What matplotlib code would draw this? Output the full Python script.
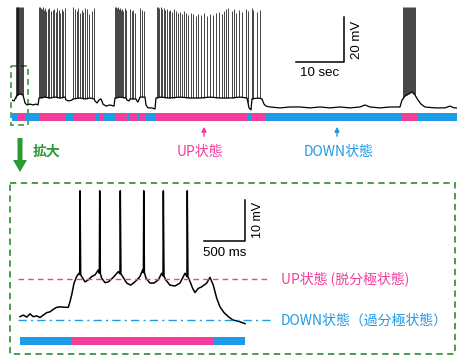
import numpy as np
import matplotlib
matplotlib.use('Agg')
import matplotlib.pyplot as plt
from matplotlib.patches import Rectangle, FancyArrow

W, H = 466, 363
PINK = '#f23d9b'
BLUE = '#1e9be6'
GREEN = '#2e9a34'
BOXGREEN = '#3d953d'
JP = ['Noto Sans CJK JP', 'DejaVu Sans']
LAT = ['Liberation Sans', 'DejaVu Sans']

# ---------------- top trace (time in s, membrane potential in mV) ----------------
top_base_t = [0.0, 0.42, 0.83, 1.04, 1.67, 2.29, 2.5, 2.71, 3.13, 3.75, 4.38, 5.0, 5.42,
              5.63, 6.88, 7.92, 8.96, 10.0, 11.04, 11.25, 11.88, 12.5, 12.71, 14.17, 15.21,
              16.25, 17.08, 17.29, 17.71, 18.13, 18.54, 18.96, 19.58, 20.42, 21.25, 21.46,
              22.5, 23.75, 23.96, 24.38, 24.58, 25.83, 26.04, 26.25, 26.67, 27.71, 27.92,
              28.33, 29.17, 29.79, 30.0, 30.83, 32.92, 35.0, 37.08, 39.17, 41.25, 43.33,
              45.42, 47.5, 48.96, 49.38, 49.79, 50.0, 51.25, 52.08, 52.5, 52.92, 53.75,
              55.83, 57.92, 60.0, 62.08, 64.17, 66.25, 68.33, 70.42, 72.5, 73.54, 74.58,
              76.67, 78.75, 80.83, 81.25, 81.88, 82.92, 83.33, 83.96, 84.58, 85.21, 86.04,
              88.13, 90.21, 91.25, 92.08, 92.71]
top_base_v = [-66.9, -67.3, -65.6, -64.7, -64.2, -64.7, -66.4, -68.2, -69.1, -68.7, -69.1,
              -68.7, -69.1, -66.0, -65.6, -66.0, -65.6, -66.0, -65.6, -66.9, -67.3, -66.9,
              -66.4, -66.0, -66.4, -66.0, -66.4, -67.3, -68.2, -66.9, -66.4, -68.7, -69.6,
              -69.1, -69.6, -66.0, -65.6, -66.0, -66.9, -67.3, -66.4, -66.4, -67.3, -67.8,
              -65.6, -65.6, -69.1, -70.4, -70.4, -70.9, -66.0, -65.6, -66.0, -65.6, -66.0,
              -66.0, -65.6, -66.0, -66.0, -65.6, -66.0, -70.4, -71.3, -66.4, -66.0, -66.4,
              -68.7, -69.6, -70.0, -70.4, -70.0, -70.0, -70.4, -70.0, -70.4, -70.0, -70.4,
              -70.0, -69.1, -70.0, -70.4, -70.0, -70.0, -66.9, -65.1, -63.8, -63.3, -64.7,
              -66.9, -68.7, -70.0, -70.4, -70.4, -69.6, -70.4, -70.4]

top_spike_t = [0.73, 0.94, 1.04, 1.25, 1.35, 1.56, 1.67, 1.88, 2.08, 2.29,
               5.63, 5.83, 6.04, 6.25, 6.46, 6.67, 6.88, 7.08, 7.5, 7.71, 8.13, 8.54, 8.75,
               9.17, 9.38, 9.79, 10.0, 10.42, 10.63, 11.04,
               12.71, 13.13, 13.54, 13.75, 14.17, 14.58, 14.79, 15.21, 15.63, 16.04, 16.67, 17.08,
               21.46, 21.67, 21.88, 22.08, 22.29, 22.5, 22.71, 22.92, 23.13, 23.54, 23.75,
               24.58, 25.0, 25.21, 25.63, 26.67, 27.08, 27.5,
               30.21, 30.42, 30.63, 31.04, 31.25, 31.67, 31.88, 32.29, 32.71, 32.92, 33.33,
               33.75, 34.17, 34.58, 35.0, 35.42, 35.83, 36.25, 36.67, 37.29, 37.71, 38.33,
               38.75, 39.38, 40.0, 40.63, 41.25, 41.88, 42.5, 43.13, 43.75, 44.17, 44.58,
               45.0, 45.83, 46.25, 46.67, 47.29, 47.92, 48.75, 49.17, 50.0, 50.21, 51.04, 51.67,
               81.46, 81.67, 81.88, 82.08, 82.29, 82.5, 82.71, 82.92, 83.13, 83.33, 83.54,
               83.75, 83.96]
top_spike_peak = [-25.6] * 10 + \
    [-25.6, -25.6, -26.0, -26.4, -25.6, -26.8, -26.0, -27.3, -26.4, -26.0, -27.3, -26.8,
     -26.4, -27.7, -26.0, -26.8, -28.2, -26.4, -27.3, -26.0] + \
    [-25.6, -26.4, -27.3, -26.0, -28.2, -26.8, -27.7, -26.0, -26.4, -28.6, -27.3, -26.0] + \
    [-25.6, -25.6, -26.0, -25.6, -26.4, -26.0, -26.8, -26.4, -27.3, -26.0, -26.8,
     -26.4, -27.3, -26.8, -28.2, -26.0, -26.8, -27.3] + \
    [-25.6, -25.6, -26.0, -25.6, -26.4, -26.0, -26.8, -26.4, -27.3, -26.8, -27.7,
     -26.4, -27.3, -28.2, -27.7, -28.6, -27.3, -28.2, -29.1, -28.2, -28.6, -29.5,
     -28.6, -29.1, -28.2, -29.5, -28.6, -29.1, -28.2, -27.7, -28.6, -27.3, -26.4,
     -26.0, -27.3, -26.4, -28.2, -26.8, -27.7, -26.4, -27.3, -26.0, -26.8, -27.7, -26.8] + \
    [-25.6] * 13

top_state_edges = [0.0, 1.04, 2.71, 5.63, 11.25, 12.71, 17.29, 18.13, 18.96, 21.46, 23.96,
                   24.38, 26.04, 26.46, 27.92, 30.0, 49.17, 50.0, 52.71, 81.25, 84.58, 92.71]
top_states = ['D', 'U', 'D', 'U', 'D', 'U', 'D', 'U', 'D', 'U', 'D', 'U', 'D', 'U', 'D',
              'U', 'D', 'U', 'D', 'U', 'D']

# ---------------- enlarged trace ----------------
bot_base_t = [0.0, 0.04, 0.082, 0.122, 0.162, 0.204, 0.244, 0.284, 0.326, 0.366, 0.406,
              0.448, 0.488, 0.549, 0.589, 0.61, 0.63, 0.659, 0.691, 0.72, 0.752, 0.793,
              0.833, 0.874, 0.915, 0.955, 0.996, 1.037, 1.077, 1.138, 1.199, 1.252, 1.301,
              1.35, 1.402, 1.463, 1.496, 1.537, 1.585, 1.634, 1.687, 1.728, 1.777, 1.829,
              1.89, 1.951, 2.012, 2.065, 2.106, 2.134, 2.174, 2.216, 2.277, 2.317, 2.357,
              2.399, 2.439, 2.488, 2.541, 2.582, 2.598, 2.679, 2.744]
bot_base_v = [-69.2, -68.8, -69.3, -68.5, -69.2, -69.0, -69.4, -68.8, -68.2, -68.0, -67.4,
              -66.9, -66.8, -66.9, -66.9, -65.5, -63.9, -61.0, -59.4, -58.6, -59.4, -60.7,
              -60.2, -59.4, -59.0, -57.8, -59.8, -60.9, -60.7, -59.6, -58.2, -59.4, -61.0,
              -61.5, -60.7, -59.4, -57.8, -59.8, -61.0, -61.0, -60.2, -58.6, -60.2, -61.5,
              -61.7, -61.0, -58.6, -60.2, -62.3, -63.3, -62.3, -61.9, -61.0, -59.6, -61.5,
              -64.7, -66.8, -68.2, -69.2, -69.8, -70.0, -70.4, -70.9]
bot_spike_t = [0.732, 0.972, 1.223, 1.509, 1.748, 2.04]
bot_spike_peak = [-38.5, -38.5, -38.5, -38.5, -38.5, -38.5]

bot_state_edges = [0.0, 0.634, 2.366, 2.744]
bot_states = ['D', 'U', 'D']

up_level = -60.0
down_level = -70.0

# ---------------- figure ----------------
fig = plt.figure(figsize=(W / 100, H / 100), dpi=100)


def px_axes(x0, y0, x1, y1, z=1):
    ax = fig.add_axes([x0 / W, 1 - y1 / H, (x1 - x0) / W, (y1 - y0) / H], zorder=z)
    ax.set_axis_off()
    ax.patch.set_alpha(0)
    return ax


# overlay for frames, arrows, labels (pixel coordinates)
ann = px_axes(0, 0, W, H, z=0)
ann.set_xlim(0, W)
ann.set_ylim(H, 0)

# top trace
ax1 = px_axes(12, 5, 457, 122)
ax1.set_xlim(0, 92.71)
ax1.set_ylim(-76.67, -24.67)
ax1.plot(top_base_t, top_base_v, color='black', lw=0.9, solid_joinstyle='round')
base_at_spk = np.interp(top_spike_t, top_base_t, top_base_v)
ax1.vlines(top_spike_t, base_at_spk, top_spike_peak, color='#111111', lw=0.55)
# scale bar 10 s / 20 mV
ax1.plot([59.17, 69.17, 69.17], [-50, -50, -30], color='black', lw=1.1)
ax1.text(64.17, -54.9, '10 sec', ha='center', va='center', fontsize=9.5, family=LAT)
ax1.text(71.9, -40, '20 mV', ha='center', va='center', rotation=90, fontsize=9.5, family=LAT)

# top state bar
axb1 = px_axes(12, 113, 457, 121)
axb1.set_xlim(0, 92.71)
axb1.set_ylim(0, 1)
for a, b, s in zip(top_state_edges[:-1], top_state_edges[1:], top_states):
    axb1.broken_barh([(a, b - a)], (0, 1), facecolor=PINK if s == 'U' else BLUE,
                     edgecolor='none')

# enlarged trace
ax2 = px_axes(10, 183, 455, 354)
ax2.set_xlim(-0.122, 5.305)
ax2.set_ylim(-78.29, -36.59)
pts = sorted(list(zip(bot_base_t, bot_base_v)))
for ts, pk in zip(bot_spike_t, bot_spike_peak):
    vb = float(np.interp(ts, bot_base_t, bot_base_v))
    pts += [(ts - 0.004, vb), (ts, pk), (ts + 0.008, vb)]
pts.sort()
tt, vv = zip(*pts)
ax2.plot(tt, vv, color='black', lw=1.1, solid_joinstyle='round')
ax2.plot([-0.024, 3.05], [up_level, up_level], color=PINK, lw=1.0, ls=(0, (4, 3)))
ax2.plot([-0.024, 3.05], [down_level, down_level], color=BLUE, lw=1.0,
         ls=(0, (6, 3, 1.5, 3)))
ax2.text(3.18, up_level, 'UP状態 (脱分極状態)', color=PINK, ha='left', va='center',
         fontsize=10, family=JP)
ax2.text(3.18, down_level - 0.2, 'DOWN状態（過分極状態）', color=BLUE, ha='left', va='center',
         fontsize=10, family=JP)
# scale bar 500 ms / 10 mV
ax2.plot([2.244, 2.744, 2.744], [-50.73, -50.73, -40.73], color='black', lw=1.1)
ax2.text(2.494, -53.7, '500 ms', ha='center', va='center', fontsize=9.5, family=LAT)
ax2.text(2.9, -45.7, '10 mV', ha='center', va='center', rotation=90, fontsize=9, family=LAT)

# enlarged state bar
axb2 = px_axes(20, 337, 245, 345)
axb2.set_xlim(0, 2.744)
axb2.set_ylim(0, 1)
for a, b, s in zip(bot_state_edges[:-1], bot_state_edges[1:], bot_states):
    axb2.broken_barh([(a, b - a)], (0, 1), facecolor=PINK if s == 'U' else BLUE,
                     edgecolor='none')

# frames
ann.add_patch(Rectangle((11, 66), 17, 59, fill=False, edgecolor=BOXGREEN, lw=1.2,
                        ls=(0, (3.5, 2.5))))
ann.add_patch(Rectangle((10, 183), 445, 171, fill=False, edgecolor=BOXGREEN, lw=1.3,
                        ls=(0, (3.5, 2.5))))
# zoom arrow
ann.add_patch(FancyArrow(20, 138, 0, 34, width=5, head_width=14, head_length=12,
                         length_includes_head=True, color=GREEN, lw=0))
ann.text(33, 152, '拡大', color=GREEN, fontsize=10, fontweight='bold', ha='left',
         va='center', family=JP)
# state labels
ann.annotate('', xy=(204, 124), xytext=(204, 139),
             arrowprops=dict(arrowstyle='-|>', color=PINK, lw=1, mutation_scale=7))
ann.text(200, 152, 'UP状態', color=PINK, fontsize=10, ha='center', va='center', family=JP)
ann.annotate('', xy=(337, 124), xytext=(337, 139),
             arrowprops=dict(arrowstyle='-|>', color=BLUE, lw=1, mutation_scale=7))
ann.text(339, 152, 'DOWN状態', color=BLUE, fontsize=10, ha='center', va='center', family=JP)

fig.savefig('out.png', dpi=100)
